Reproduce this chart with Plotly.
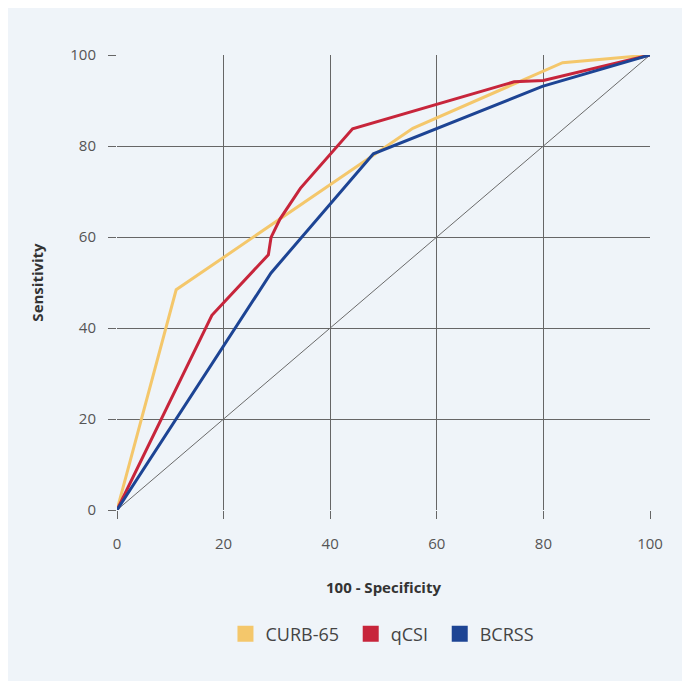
import plotly.graph_objects as go

# 100 - Specificity (x) and Sensitivity (y) for each score
curb_x = [0, 11.1, 55.5, 83.6, 100]
curb_y = [0, 48.4, 83.9, 98.3, 100]

qcsi_x = [0, 17.8, 28.4, 28.9, 30.6, 34.4, 44.2, 74.5, 80.0, 100]
qcsi_y = [0, 42.8, 56.1, 59.9, 64.0, 70.7, 83.8, 94.1, 94.4, 100]

bcrss_x = [0, 28.9, 48.1, 79.8, 100]
bcrss_y = [0, 52.1, 78.3, 93.1, 100]

ref_x = [0, 100]
ref_y = [0, 100]

series = [
    ("CURB-65", curb_x, curb_y, "#F4C76B", "legend", 0.2035),
    ("qCSI", qcsi_x, qcsi_y, "#C7253B", "legend2", 0.4385),
    ("BCRSS", bcrss_x, bcrss_y, "#1D4494", "legend3", 0.6055),
]

tick_vals = [0, 20, 40, 60, 80, 100]
tick_text = ["0", "20", "40", "60", "80", "100"]

BG = "#EFF4F9"
GRID = "#666666"

fig = go.Figure()

fig.add_trace(go.Scatter(x=ref_x, y=ref_y, mode="lines",
                         line=dict(color="#6A6A6A", width=1),
                         showlegend=False, hoverinfo="skip"))

for name, xs, ys, col, lg, lx in series:
    fig.add_trace(go.Scatter(x=xs, y=ys, mode="lines", name=name,
                             line=dict(color=col, width=3),
                             showlegend=False))

for name, xs, ys, col, lg, lx in series:
    fig.add_trace(go.Scatter(x=[None], y=[None], mode="markers", name=name,
                             marker=dict(symbol="square", size=16, color=col),
                             showlegend=True, legend=lg))

axis_common = dict(
    range=[0, 100],
    tickvals=tick_vals,
    ticktext=tick_text,
    showgrid=True,
    gridcolor=GRID,
    gridwidth=1,
    zeroline=False,
    showline=False,
    ticks="outside",
    ticklen=8,
    tickcolor=GRID,
    tickwidth=1,
    tickfont=dict(family="Open Sans", size=15, color="#555555"),
    fixedrange=True,
)

legend_common = dict(orientation="h", yanchor="middle", y=-0.2725,
                     xanchor="left",
                     font=dict(family="Open Sans", size=18, color="#444444"),
                     bgcolor="rgba(0,0,0,0)", borderwidth=0)

layout_legends = {}
for name, xs, ys, col, lg, lx in series:
    layout_legends[lg] = dict(**legend_common, x=lx)

fig.update_layout(
    width=690, height=681,
    margin=dict(l=109, r=48, t=47, b=179),
    paper_bgcolor=BG,
    plot_bgcolor=BG,
    font=dict(family="Open Sans", color="#333333"),
    xaxis=dict(**axis_common, ticklabelstandoff=12,
               title=dict(text="<b>100 - Specificity</b>",
                          font=dict(family="Open Sans", size=15, color="#333333"),
                          standoff=30)),
    yaxis=dict(**axis_common, ticklabelstandoff=9,
               title=dict(text="<b>Sensitivity</b>",
                          font=dict(family="Open Sans", size=15, color="#333333"),
                          standoff=23)),
    **layout_legends,
)

fig.write_html("out.html")
